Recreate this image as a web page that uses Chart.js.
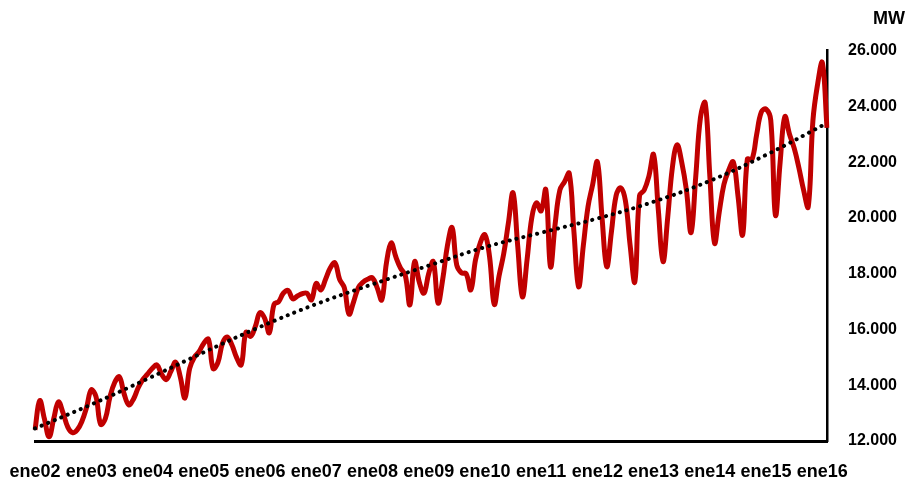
<!DOCTYPE html>
<html lang="es">
<head>
<meta charset="utf-8">
<title>Demanda MW</title>
<script src="https://cdn.jsdelivr.net/npm/chart.js@4.4.0/dist/chart.umd.min.js"></script>
<style>
  html, body { margin: 0; padding: 0; background: #ffffff; }
  #contenedor { width: 910px; height: 481px; }
</style>
</head>
<body>
<div id="contenedor">
  <canvas id="grafico-demanda" width="910" height="481"></canvas>
</div>
<script>
// Datos (MW, mensual ene02 - feb16)
const meses = ['ene', 'feb', 'mar', 'abr', 'may', 'jun', 'jul', 'ago', 'sep', 'oct', 'nov', 'dic'];
const anios = ['02', '03', '04', '05', '06', '07', '08', '09', '10', '11', '12', '13', '14', '15', '16'];

const demanda = [
    12400, 13450, 12800, 12150, 12800, 13400, 13000, 12500, 12300, 12400, 12700, 13200,
    13830, 13600, 12600, 12800, 13580, 14100, 14300, 13700, 13300, 13500, 13900, 14200,
    14400, 14600, 14730, 14400, 14200, 14500, 14830, 14300, 13540, 14600, 15000, 15200,
    15500, 15650, 14600, 14800, 15500, 15730, 15450, 15000, 14730, 15900, 15750, 16100,
    16600, 16400, 15880, 16900, 17000, 17300, 17400, 17100, 17200, 17280, 17300, 17060,
    17650, 17420, 17800, 18200, 18390, 17800, 17500, 16550, 17000, 17500, 17700, 17800,
    17850, 17500, 17060, 18400, 19100, 18600, 18200, 17950, 16880, 18430, 17700, 17300,
    18000, 18430, 16950, 17800, 19000, 19650, 18300, 18030, 18000, 17420, 18500, 19100,
    19400, 18600, 16900, 17900, 18700, 19800, 20900, 19000, 17170, 18500, 20000, 20540,
    20250, 21010, 18250, 19800, 21000, 21300, 21600, 19500, 17530, 19000, 20400, 21200,
    22010, 20000, 18250, 19500, 20800, 21080, 20600, 19000, 17710, 20800, 21000, 21500,
    22270, 20300, 18430, 20000, 21800, 22620, 22000, 21000, 19470, 21500, 23600, 24130,
    21500, 19100, 20200, 21200, 21700, 22010, 20800, 19390, 22100, 22100, 23000, 23800,
    23900, 23500, 20100, 22000, 23630, 23000, 22500, 21800, 21000, 20400, 23500, 24800,
    25570, 23230
];

// Tendencia (linea punteada), leida cada enero y en el ultimo mes
const tendenciaEnero = [12450, 13310, 14230, 15180, 16090, 16910, 17620, 18290, 18950, 19470, 19980, 20580, 21330, 22260, 23400];

const ticksY = [12000, 14000, 16000, 18000, 20000, 22000, 24000, 26000];

// Etiquetas de cada mes
const etiquetas = [];
anios.forEach(a => meses.forEach(m => etiquetas.push(m + a)));
etiquetas.length = demanda.length;

// Serie de tendencia con huecos (eneros y ultimo mes)
const tendencia = demanda.map(() => null);
tendenciaEnero.forEach((v, k) => {
    if (k < tendenciaEnero.length - 1) tendencia[k * 12] = v;
});
tendencia[demanda.length - 1] = tendenciaEnero[tendenciaEnero.length - 1];

const fuente = "'Liberation Sans', Arial, sans-serif";

const ctx = document.getElementById('grafico-demanda').getContext('2d');

window.graficaDemanda = new Chart(ctx, {
    type: 'line',
    data: {
        labels: etiquetas,
        datasets: [
            {
                label: 'Tendencia',
                data: tendencia,
                borderColor: '#000000',
                borderWidth: 4,
                borderDash: [0.1, 7],
                borderCapStyle: 'round',
                pointRadius: 0,
                tension: 0.4,
                spanGaps: true,
                fill: false,
                order: 0
            },
            {
                label: 'Demanda',
                data: demanda,
                borderColor: '#C00000',
                borderWidth: 5,
                pointRadius: 0,
                tension: 0.4,
                fill: false,
                order: 1
            }
        ]
    },
    options: {
        responsive: false,
        animation: false,
        devicePixelRatio: 1,
        layout: {
            padding: { left: 35, right: 5, top: 0, bottom: 0 }
        },
        plugins: {
            legend: { display: false },
            tooltip: { enabled: false },
            title: {
                display: true,
                text: 'MW',
                align: 'end',
                color: '#000000',
                font: { family: fuente, size: 18, weight: 'bold' },
                padding: { top: 8, bottom: 21 }
            }
        },
        scales: {
            x: {
                grid: { display: false, drawTicks: false },
                border: { display: true, color: '#000000', width: 3 },
                ticks: {
                    autoSkip: false,
                    maxRotation: 0,
                    minRotation: 0,
                    padding: 20,
                    color: '#000000',
                    font: { family: fuente, size: 18, weight: 'bold' },
                    callback: function (valor, indice) {
                        return indice % 12 === 0 ? this.getLabelForValue(valor) : null;
                    }
                },
                afterFit: s => {
                    s.height = 40;
                    s.paddingLeft = 0;
                    s.paddingRight = 0;
                }
            },
            y: {
                position: 'right',
                min: 12000,
                max: 26000,
                grid: { display: false, drawTicks: false },
                border: { display: true, color: '#000000', width: 2.5 },
                afterBuildTicks: s => { s.ticks = ticksY.map(v => ({ value: v })); },
                afterFit: s => { s.width = 78; },
                ticks: {
                    padding: 21,
                    color: '#000000',
                    font: { family: fuente, size: 16, weight: 'bold' },
                    callback: v => v.toLocaleString('de-DE')
                }
            }
        }
    }
});
</script>
</body>
</html>
